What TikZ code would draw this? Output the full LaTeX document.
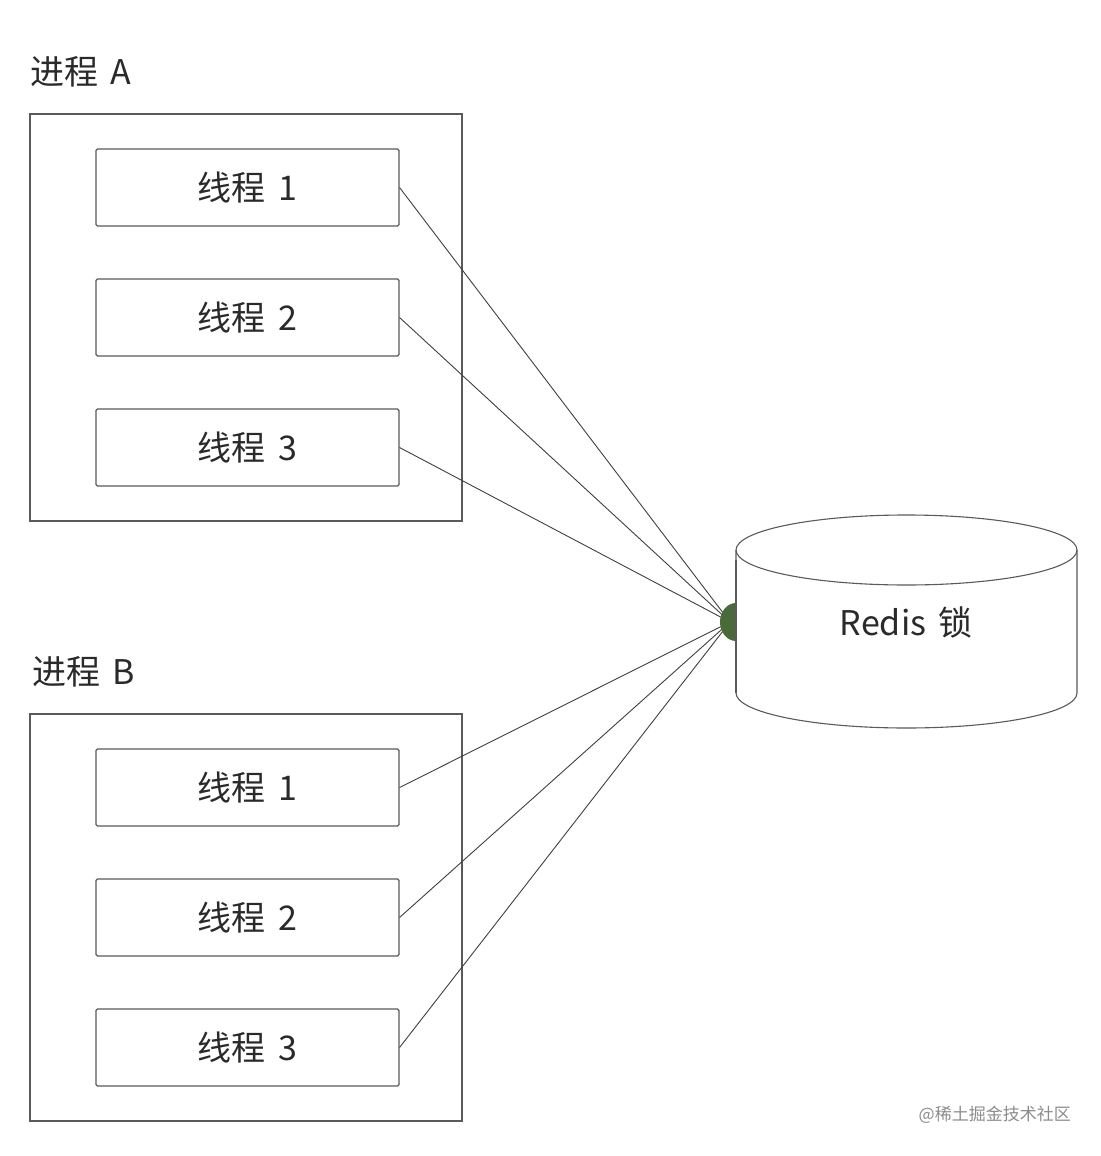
\documentclass[tikz,border=0pt]{standalone}
\usepackage{fontspec}
\setmainfont{Noto Sans CJK SC}
\definecolor{edge}{HTML}{5A5A5A}
\definecolor{txt}{HTML}{2A2A2A}
\definecolor{blob}{HTML}{4B6A3A}
\begin{document}
\begin{tikzpicture}[x=1pt,y=-1pt,
  procbox/.style={draw=edge,line width=1.1pt,fill=none},
  thread/.style={draw=edge,line width=1.1pt,rounded corners=1.5pt,minimum width=303pt,minimum height=77pt,inner sep=0pt,text=txt,font=\fontsize{34}{40}\selectfont},
  plabel/.style={anchor=west,inner sep=0pt,text=txt,font=\fontsize{34}{40}\selectfont},
  conn/.style={draw=black!75,line width=0.9pt}]
\useasboundingbox (0,0) rectangle (1100,1156);
\fill[white] (0,0) rectangle (1100,1156);
% process A
\node[plabel] (labA) at (30,72) {进程\hspace{0.35em}A};
\draw[procbox] (30,114) rectangle (462,521);
\node[thread] (a1) at (247.5,187.5) {线程\hspace{0.4em}1};
\node[thread] (a2) at (247.5,317.5) {线程\hspace{0.4em}2};
\node[thread] (a3) at (247.5,447.5) {线程\hspace{0.4em}3};
% process B
\node[plabel] (labB) at (32,672) {进程\hspace{0.35em}B};
\draw[procbox] (30,714) rectangle (462,1121);
\node[thread] (b1) at (247.5,787.5) {线程\hspace{0.4em}1};
\node[thread] (b2) at (247.5,917.5) {线程\hspace{0.4em}2};
\node[thread] (b3) at (247.5,1047.5) {线程\hspace{0.4em}3};
% cylinder
\draw[draw=edge,line width=1.1pt,fill=white] (736,550) -- (736,693) arc[start angle=180,end angle=360,x radius=170.5,y radius=-35] -- (1077,550);
\draw[draw=edge,line width=1.1pt] (906.5,550) ellipse[x radius=170.5,y radius=35];
\node[inner sep=0pt,text=txt,font=\fontsize{34}{40}\selectfont] (redis) at (906,622) {Redis\hspace{0.35em}锁};
\coordinate (hub) at (730,622);
% connectors
\foreach \t in {a1,a2,a3,b1,b2,b3} \draw[conn] (\t.east) -- (hub);
% green blob
\fill[blob] (736,603) arc[start angle=90,end angle=270,x radius=16,y radius=-19] -- cycle;
\draw[draw=edge,line width=1.1pt] (736,560) -- (736,693);
% watermark
\node[anchor=east,inner sep=0pt,text=black!45,font=\fontsize{17}{20}\selectfont] (wm) at (1071,1115) {@稀土掘金技术社区};
\end{tikzpicture}
\end{document}
